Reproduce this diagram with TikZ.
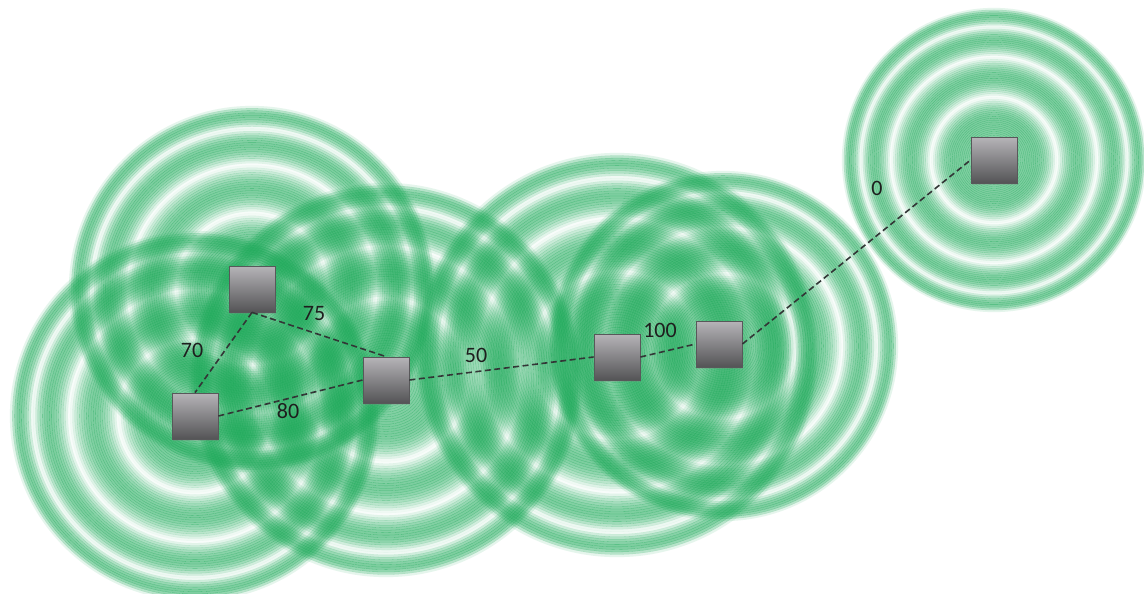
\documentclass[tikz,border=0pt]{standalone}
\usepackage{fontspec}
\setmainfont{Carlito}
\usetikzlibrary{shadows}

\definecolor{wavegreen}{RGB}{30,170,90}
\definecolor{boxtop}{RGB}{182,180,184}
\definecolor{boxbottom}{RGB}{84,84,86}
\definecolor{boxedge}{RGB}{88,88,90}
\definecolor{linkgray}{RGB}{50,54,54}
\definecolor{labelgray}{RGB}{30,30,30}

% opacity of the ripple bands along the normalised radius \rt (0 = centre, 1 = rim)
\newcommand{\rippleopacity}{%
  \pgfmathsetmacro{\rg}{%
     (\rt<0.276)*(0.25+0.25*\rt/0.276)
    +(\rt>=0.276)*(\rt<0.414)*(0.5+0.5*(\rt-0.276)/0.138)
    +(\rt>=0.414)*(\rt<0.546)*(1.0+0.5*(\rt-0.414)/0.132)
    +(\rt>=0.546)*(\rt<0.678)*(1.5+0.5*(\rt-0.546)/0.132)
    +(\rt>=0.678)*(\rt<0.790)*(2.0+0.5*(\rt-0.678)/0.112)
    +(\rt>=0.790)*(\rt<0.876)*(2.5+0.5*(\rt-0.790)/0.086)
    +(\rt>=0.876)*(\rt<0.950)*(3.0+0.5*(\rt-0.876)/0.074)
    +(\rt>=0.950)*(3.5+0.5*(\rt-0.950)/0.050)}%
  \pgfmathsetmacro{\ral}{0.58*max(abs(sin(180*\rg)),0.001)}%
}

% a set of concentric ripple bands: centre (#1,#2), outer radius #3;
% neighbouring bands overlap slightly so no light seams show between them
\newcommand{\ripplefield}[3]{%
  \foreach \i in {0,...,79}{%
    \pgfmathsetmacro{\rt}{(\i+0.5)/80}%
    \rippleopacity
    \pgfmathsetmacro{\rin}{max(#3*\i/80-0.15,0.05)}%
    \pgfmathsetmacro{\rout}{#3*(\i+1)/80+0.15}%
    \fill[wavegreen, fill opacity=\ral, even odd rule]
      (#1,#2) circle (\rout) (#1,#2) circle (\rin);
  }%
}

\tikzset{
  station/.style={rectangle, minimum size=46pt, inner sep=0pt,
    draw=boxedge, line width=0.8pt, top color=boxtop, bottom color=boxbottom,
    drop shadow={shadow xshift=1pt, shadow yshift=-1.5pt, opacity=0.25}},
  link/.style={draw=linkgray, line width=1.6pt, dash pattern=on 6pt off 3.5pt},
  cost/.style={text=labelgray, font=\fontsize{22}{26}\selectfont, inner sep=0pt}
}

\begin{document}
\begin{tikzpicture}[x=1pt, y=-1pt]
  \useasboundingbox (0,0) rectangle (1144,594);
  \fill[white] (0,0) rectangle (1144,594);

  % ripple fields around the stations
  \ripplefield{252}{289}{183}
  \ripplefield{195}{416}{185}
  \ripplefield{386}{380}{197}
  \ripplefield{617}{355}{202}
  \ripplefield{723}{346}{175}
  \ripplefield{994}{160}{152}

  % stations
  \node[station] (A) at (252,289) {};
  \node[station] (B) at (195,416) {};
  \node[station] (C) at (386,380) {};
  \node[station] (D) at (617,357) {};
  \node[station] (E) at (719,344) {};
  \node[station] (F) at (994,160) {};

  % links
  \draw[link] (A.south) -- (B.north);
  \draw[link] (A.south) -- (C.north);
  \draw[link] (B.east) -- (C.west);
  \draw[link] (C.east) -- (D.west);
  \draw[link] (D.east) -- (E.west);
  \draw[link] (E.east) -- (F.west);

  % link costs
  \node[cost] (c70)  at (192,350) {70};
  \node[cost] (c75)  at (314,314) {75};
  \node[cost] (c80)  at (288,411) {80};
  \node[cost] (c50)  at (476,355) {50};
  \node[cost] (c100) at (660,330) {100};
  \node[cost] (c0)   at (877,188) {0};
\end{tikzpicture}
\end{document}
